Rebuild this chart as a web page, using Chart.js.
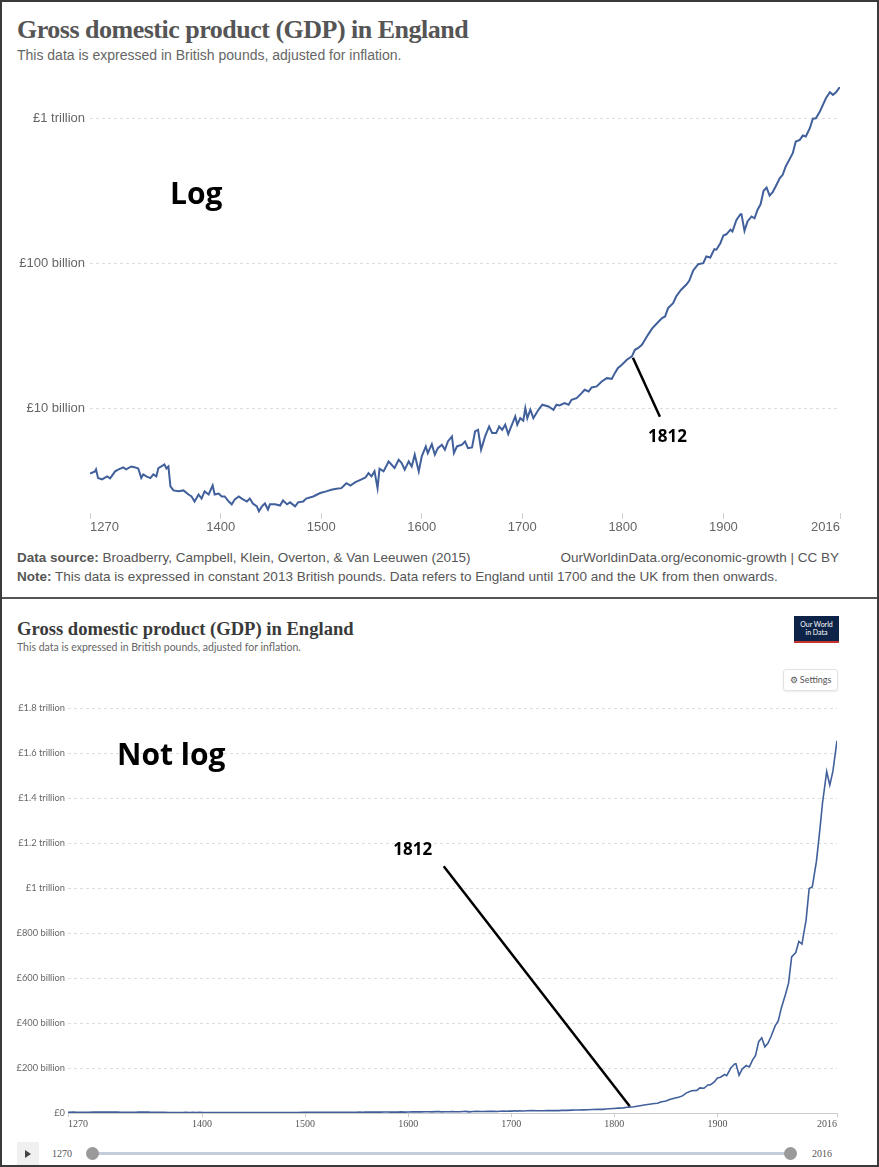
<!DOCTYPE html>
<html>
<head>
<meta charset="utf-8">
<script src="https://cdn.jsdelivr.net/npm/chart.js@4.4.1/dist/chart.umd.min.js"></script>
<style>
  html, body { margin: 0; padding: 0; background: #fff; }
  #page { position: relative; width: 879px; height: 1167px; overflow: hidden; background: #fff; }
  #frame { position: absolute; left: 0; top: 0; width: 879px; height: 1167px; box-sizing: border-box; border: 2px solid #3a3a3a; pointer-events: none; }
  #divider { position: absolute; left: 0; top: 597px; width: 879px; height: 2px; background: #555; }
  .t { position: absolute; white-space: nowrap; line-height: 1; }
  .box { position: absolute; }
  #topTitle { left: 17px; top: 15.2px; font: bold 26px "Liberation Serif", serif; letter-spacing: -0.5px; color: #555; }
  #topSub { left: 17px; top: 47.4px; font: 14px "Liberation Sans", Arial, sans-serif; color: #666; }
  #src { left: 17px; top: 550.1px; font: 13.5px "Liberation Sans", Arial, sans-serif; color: #555; }
  #url { right: 40px; top: 550.1px; font: 13.5px "Liberation Sans", Arial, sans-serif; color: #555; }
  #note { left: 17px; top: 569.1px; font: 13.5px "Liberation Sans", Arial, sans-serif; color: #555; }
  #logTag { left: 170px; top: 172.4px; font: bold 30px "Open Sans", sans-serif; color: #000; }
  #linTag { left: 117px; top: 733px; font: bold 30px "Open Sans", sans-serif; color: #000; }
  #botTitle { left: 17px; top: 617.6px; font: 600 18.6px "Liberation Serif", serif; color: #3a3a3a; }
  #botSub { left: 17px; top: 641.2px; font: 10.5px Lato, sans-serif; color: #666; }
  #logo { left: 794px; top: 616px; width: 45px; height: 27px; background: #0d2348; }
  #logo .bar { position: absolute; left: 0; bottom: 0; width: 45px; height: 2.5px; background: #c8322c; }
  #logo .txt { position: absolute; left: 0; top: 4px; width: 45px; text-align: center; font: 7px/8px Lato, sans-serif; color: #fff; }
  #settings { left: 783px; top: 669px; width: 55px; height: 22px; box-sizing: border-box; border: 1px solid #e2e2e2; border-radius: 3px; box-shadow: 0 1px 2px rgba(0,0,0,0.08); font: 9px/20px Lato, sans-serif; color: #555; text-align: center; }
  #play { left: 17px; top: 1142px; width: 22px; height: 25px; background: #f0f0f0; }
  #play .tri { position: absolute; left: 8px; top: 8px; width: 0; height: 0; border-top: 4px solid transparent; border-bottom: 4px solid transparent; border-left: 6px solid #444; }
  #yr0 { left: 52px; top: 1148px; font: 10px "Liberation Serif", serif; color: #555; }
  #yr1 { left: 812px; top: 1148px; font: 10px "Liberation Serif", serif; color: #555; }
  #track { left: 92px; top: 1152px; width: 699px; height: 3px; background: #c3ccd8; }
  .knob { position: absolute; top: 1146.5px; width: 13px; height: 13px; border-radius: 50%; background: #9a9a9a; }
  #topWrap { position: absolute; left: 0; top: 70px; width: 879px; height: 470px; }
  #botWrap { position: absolute; left: 0; top: 695px; width: 879px; height: 440px; }
</style>
</head>
<body>
<div id="page">
  <div id="topTitle" class="t">Gross domestic product (GDP) in England</div>
  <div id="topSub" class="t">This data is expressed in British pounds, adjusted for inflation.</div>
  <div id="topWrap"><canvas id="logChart"></canvas></div>
  <div id="logTag" class="t">Log</div>
  <div id="src" class="t"><b>Data source:</b> Broadberry, Campbell, Klein, Overton, &amp; Van Leeuwen (2015)</div>
  <div id="url" class="t">OurWorldinData.org/economic-growth | CC BY</div>
  <div id="note" class="t"><b>Note:</b> This data is expressed in constant 2013 British pounds. Data refers to England until 1700 and the UK from then onwards.</div>
  <div id="divider"></div>

  <div id="botTitle" class="t">Gross domestic product (GDP) in England</div>
  <div id="botSub" class="t">This data is expressed in British pounds, adjusted for inflation.</div>
  <div id="logo" class="box"><div class="txt">Our World<br>in Data</div><div class="bar"></div></div>
  <div id="settings" class="box">&#9881; Settings</div>
  <div id="botWrap"><canvas id="linChart"></canvas></div>
  <div id="linTag" class="t">Not log</div>
  <div id="play" class="box"><div class="tri"></div></div>
  <div id="yr0" class="t">1270</div>
  <div id="track" class="box"></div>
  <div class="knob" style="left:86px"></div>
  <div class="knob" style="left:784px"></div>
  <div id="yr1" class="t">2016</div>
  <div id="frame"></div>
</div>
<script>
// GDP in England / UK, constant 2013 GBP, billions
const years = [
  1270, 1275, 1276, 1278, 1282, 1287, 1290, 1295, 1298, 1303, 1306, 1311, 1315, 1318, 1321, 1323,
  1326, 1330, 1333, 1336, 1338, 1341, 1344, 1346, 1348, 1350, 1353, 1358, 1363, 1368, 1371, 1374,
  1378, 1381, 1384, 1388, 1392, 1394, 1398, 1401, 1404, 1408, 1411, 1414, 1418, 1421, 1426, 1429,
  1432, 1436, 1438, 1441, 1444, 1447, 1449, 1454, 1459, 1462, 1466, 1469, 1474, 1477, 1482, 1485,
  1492, 1499, 1505, 1510, 1515, 1520, 1525, 1529, 1534, 1539, 1544, 1547, 1550, 1553, 1556, 1558,
  1562, 1567, 1570, 1573, 1577, 1580, 1583, 1587, 1590, 1593, 1597, 1600, 1604, 1606, 1610, 1613,
  1616, 1620, 1623, 1626, 1630, 1632, 1635, 1640, 1643, 1646, 1650, 1653, 1656, 1659, 1663, 1667,
  1670, 1674, 1677, 1680, 1683, 1686, 1689, 1693, 1695, 1698, 1701, 1703, 1705, 1708, 1711, 1716,
  1720, 1726, 1731, 1734, 1737, 1742, 1746, 1749, 1754, 1759, 1762, 1766, 1769, 1774, 1779, 1784,
  1789, 1792, 1795, 1799, 1804, 1809, 1812, 1815, 1819, 1822, 1825, 1829, 1834, 1839, 1842, 1845,
  1850, 1853, 1858, 1863, 1866, 1870, 1875, 1880, 1883, 1887, 1891, 1893, 1897, 1900, 1903, 1907,
  1909, 1913, 1917, 1918, 1921, 1924, 1928, 1931, 1934, 1937, 1940, 1943, 1946, 1949, 1952, 1956,
  1959, 1962, 1966, 1969, 1972, 1976, 1979, 1982, 1986, 1989, 1992, 1996, 1999, 2002, 2006, 2009,
  2012, 2016
];
const gdpBillions = [
  3.55, 3.68, 3.80, 3.31, 3.24, 3.40, 3.29, 3.68, 3.78, 3.92, 3.80, 3.98, 3.92, 3.85, 3.31, 3.51,
  3.40, 3.31, 3.51, 3.40, 3.88, 3.98, 4.11, 3.85, 3.98, 2.90, 2.72, 2.68, 2.72, 2.55, 2.47, 2.28,
  2.55, 2.39, 2.68, 2.55, 2.94, 2.55, 2.59, 2.47, 2.47, 2.28, 2.18, 2.36, 2.47, 2.39, 2.28, 2.39,
  2.21, 2.11, 1.95, 2.11, 2.21, 2.01, 2.18, 2.18, 2.14, 2.32, 2.18, 2.25, 2.11, 2.25, 2.28, 2.39,
  2.47, 2.61, 2.68, 2.75, 2.79, 2.82, 3.05, 2.94, 3.10, 3.22, 3.34, 3.58, 3.40, 3.68, 2.82, 3.84,
  3.68, 4.31, 4.09, 3.88, 4.43, 4.20, 3.78, 4.31, 3.98, 4.80, 3.68, 4.67, 5.47, 4.92, 5.67, 4.80,
  5.32, 5.62, 5.19, 5.92, 6.41, 4.92, 5.47, 5.62, 5.92, 5.32, 5.38, 6.94, 7.13, 5.19, 6.41, 7.51,
  6.76, 6.76, 7.51, 7.13, 7.72, 6.65, 7.51, 8.81, 7.72, 8.57, 8.23, 10.05, 8.57, 9.79, 8.57, 9.79,
  10.61, 10.32, 9.79, 10.61, 10.5, 10.88, 10.61, 11.48, 11.78, 12.76, 13.45, 13.10, 13.96, 14.19, 15.36, 16.18,
  16.0, 17.52, 18.96, 20.0, 21.66, 22.84, 25.4, 26.06, 27.49, 29.77, 32.2, 35.5, 38.7, 42.0, 43.1, 49.2,
  53.2, 59.2, 65.9, 71.3, 76.0, 89.5, 98.9, 100.5, 111.7, 109.9, 125.5, 124.5, 138, 156, 159, 171,
  166, 200, 219, 219, 168, 195, 211, 205, 235, 256, 317, 334, 294, 310, 340, 387,
  409, 467, 527, 577, 694, 713, 763, 751, 857, 998, 1005, 1117, 1243, 1380, 1518, 1457,
  1518, 1655
];
const xTickYears = [1270, 1400, 1500, 1600, 1700, 1800, 1900, 2016];
const logTickValues = [10, 100, 1000];

const LINE = '#41609b';
const points = years.map((y, i) => ({ x: y, y: gdpBillions[i] }));

function money(v) {
  if (v === 0) return '£0';
  if (v >= 1000) return '£' + (v / 1000) + ' trillion';
  return '£' + v + ' billion';
}

// leader line + year label attached to one data point
const callout = {
  id: 'callout',
  afterDatasetsDraw(chart, args, opts) {
    const i = years.indexOf(opts.year);
    const px = chart.scales.x.getPixelForValue(years[i]);
    const py = chart.scales.y.getPixelForValue(gdpBillions[i]);
    const ctx = chart.ctx;
    ctx.save();
    ctx.strokeStyle = '#000';
    ctx.lineWidth = 2.5;
    ctx.beginPath();
    ctx.moveTo(px + opts.from[0], py + opts.from[1]);
    ctx.lineTo(px + opts.to[0], py + opts.to[1]);
    ctx.stroke();
    ctx.font = 'bold 17px "Open Sans", sans-serif';
    ctx.fillStyle = '#000';
    ctx.textAlign = 'center';
    ctx.textBaseline = 'middle';
    ctx.fillText(String(opts.year), px + opts.label[0], py + opts.label[1]);
    ctx.restore();
  }
};

new Chart(document.getElementById('logChart'), {
  type: 'line',
  data: { datasets: [{ data: points, borderColor: LINE, borderWidth: 2, pointRadius: 0, tension: 0 }] },
  options: {
    responsive: true,
    maintainAspectRatio: false,
    animation: false,
    layout: { padding: { top: 17, right: 39, left: 0, bottom: 0 } },
    plugins: {
      legend: { display: false },
      tooltip: { enabled: false },
      callout: { year: 1812, from: [-2, 8], to: [25, 67], label: [32.6, 87.2] }
    },
    scales: {
      x: {
        type: 'linear', min: 1270, max: 2016,
        afterBuildTicks: s => { s.ticks = xTickYears.map(v => ({ value: v })); },
        afterFit: s => { s.height = 27; },
        border: { display: false },
        grid: { drawOnChartArea: false, drawTicks: true, tickLength: 6, color: '#cfcfcf' },
        ticks: { align: 'inner', autoSkip: false, maxRotation: 0, padding: 1, color: '#666',
                 font: { family: 'Liberation Sans', size: 13 }, callback: v => String(v) }
      },
      y: {
        type: 'logarithmic', min: 1.9, max: 1650,
        afterBuildTicks: s => { s.ticks = logTickValues.map(v => ({ value: v })); },
        afterFit: s => { s.width = 90; },
        border: { display: false, dash: [3, 3] },
        grid: { drawTicks: false, color: '#dedede' },
        ticks: { padding: 5, color: '#666', font: { family: 'Liberation Sans', size: 13 }, callback: v => money(v) }
      }
    }
  },
  plugins: [callout]
});

new Chart(document.getElementById('linChart'), {
  type: 'line',
  data: { datasets: [{ data: points, borderColor: LINE, borderWidth: 1.6, pointRadius: 0, tension: 0 }] },
  options: {
    responsive: true,
    maintainAspectRatio: false,
    animation: false,
    layout: { padding: { top: 13, right: 42, left: 0, bottom: 0 } },
    plugins: {
      legend: { display: false },
      tooltip: { enabled: false },
      callout: { year: 1812, from: [3, -1], to: [-183, -241], label: [-214, -257] }
    },
    scales: {
      x: {
        type: 'linear', min: 1270, max: 2016,
        afterBuildTicks: s => { s.ticks = xTickYears.map(v => ({ value: v })); },
        afterFit: s => { s.height = 22; },
        border: { display: true, color: '#cccccc', width: 1 },
        grid: { drawOnChartArea: false, drawTicks: true, tickLength: 4, color: '#cccccc' },
        ticks: { align: 'inner', autoSkip: false, maxRotation: 0, padding: 1, color: '#555',
                 font: { family: 'Liberation Serif', size: 10 }, callback: v => String(v) }
      },
      y: {
        type: 'linear', min: 0, max: 1800,
        ticks: { stepSize: 200, padding: 3, color: '#666', font: { family: 'Lato', size: 9.3 }, callback: v => money(v) },
        afterFit: s => { s.width = 68; },
        border: { display: false, dash: c => (c.tick && c.tick.value === 0 ? [] : [3, 3]) },
        grid: { drawTicks: false, color: c => (c.tick && c.tick.value === 0 ? '#cccccc' : '#dddddd') }
      }
    }
  },
  plugins: [callout]
});
</script>
</body>
</html>
